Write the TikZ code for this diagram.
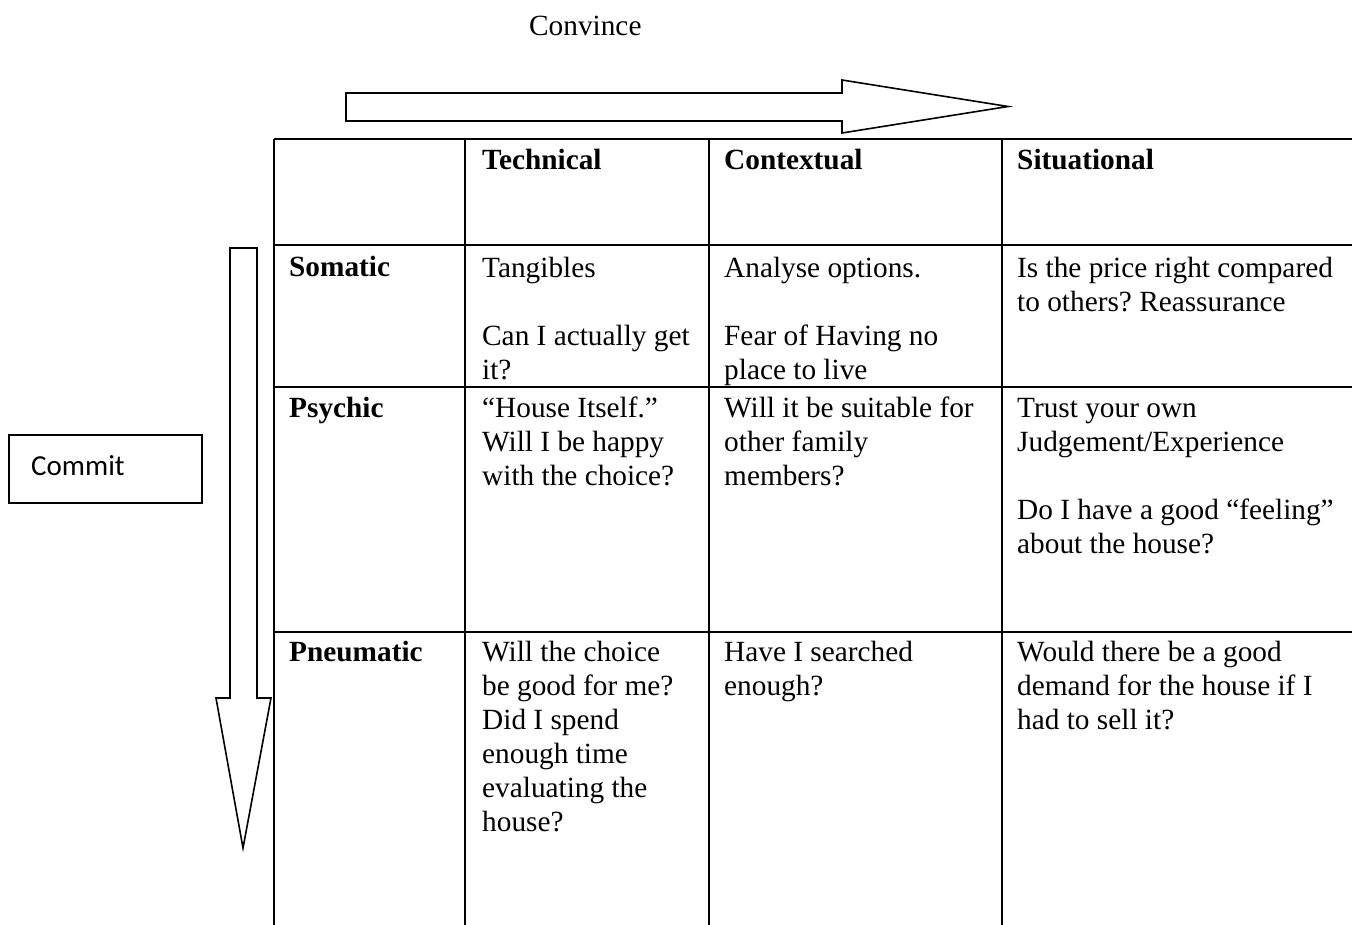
\documentclass[tikz,border=0pt]{standalone}
\usepackage{fontspec}
\setmainfont{Liberation Serif}
\newfontfamily\calibri{Carlito}
\frenchspacing
\begin{document}
\begin{tikzpicture}[x=1pt,y=-1pt,
  tline/.style={line width=2pt},
  arrowline/.style={line width=1.6pt, line join=miter},
  cell/.style={anchor=north west, inner sep=0pt, align=flush left, text width=420pt,
    font=\fontsize{29.3}{34}\selectfont},
  plain/.style={anchor=base west, inner sep=0pt, font=\fontsize{29.3}{34}\selectfont},
  boxstyle/.style={draw, line width=2pt, minimum width=193pt, minimum height=68pt, inner sep=0pt}
]
\useasboundingbox (0,0) rectangle (1352,925);

% Title
\node[plain] (convince) at (529,36) {Convince};

% Horizontal arrow
\coordinate (hA) at (346,93);
\coordinate (hB) at (842,93);
\coordinate (hC) at (842,80);
\coordinate (hTip) at (1008,106.5);
\coordinate (hD) at (842,133);
\coordinate (hE) at (842,121);
\coordinate (hF) at (346,121);
\draw[arrowline] (hA) -- (hB) -- (hC) -- (hTip) -- (hD) -- (hE) -- (hF) -- cycle;

% Vertical arrow
\coordinate (vA) at (230,248);
\coordinate (vB) at (257,248);
\coordinate (vC) at (257,698);
\coordinate (vD) at (271,698);
\coordinate (vTip) at (243,848);
\coordinate (vE) at (216,698);
\coordinate (vF) at (230,698);
\draw[arrowline] (vA) -- (vB) -- (vC) -- (vD) -- (vTip) -- (vE) -- (vF) -- cycle;

% Commit box
\node[boxstyle] (commit) at (105.5,469) {};
\node[anchor=base west, inner sep=0pt, font=\calibri\fontsize{29}{34}\selectfont] (committxt) at (31,475) {Commit};

% Table grid
\draw[tline] (274,139) -- (1352,139);
\draw[tline] (274,245) -- (1352,245);
\draw[tline] (274,387) -- (1352,387);
\draw[tline] (274,632) -- (1352,632);
\draw[tline] (274,139) -- (274,925);
\draw[tline] (465,139) -- (465,925);
\draw[tline] (709,139) -- (709,925);
\draw[tline] (1002,139) -- (1002,925);

% Header row
\node[plain] (hTech) at (482,170) {\bfseries Technical};
\node[plain] (hCont) at (724,170) {\bfseries Contextual};
\node[plain] (hSit) at (1017,170) {\bfseries Situational};

% Row labels
\node[plain] (rSom) at (289,277) {\bfseries Somatic};
\node[plain] (rPsy) at (289,417) {\bfseries Psychic};
\node[plain] (rPne) at (289,661) {\bfseries Pneumatic};

% Somatic row
\node[cell] (c11) at (482,253.3) {\strut Tangibles\\ \mbox{}\\ Can I actually get\\ it?};
\node[cell] (c12) at (724,253.3) {\strut Analyse options.\\ \mbox{}\\ Fear of Having no\\ place to live};
\node[cell] (c13) at (1017,253.3) {\strut Is the price right compared\\ to others? Reassurance};

% Psychic row
\node[cell] (c21) at (482,393.3) {\strut “House Itself.”\\ Will I be happy\\ with the choice?};
\node[cell] (c22) at (724,393.3) {\strut Will it be suitable for\\ other family\\ members?};
\node[cell] (c23) at (1017,393.3) {\strut Trust your own\\ Judgement/Experience\\ \mbox{}\\ Do I have a good “feeling”\\ about the house?};

% Pneumatic row
\node[cell] (c31) at (482,637.3) {\strut Will the choice\\ be good for me?\\ Did I spend\\ enough time\\ evaluating the\\ house?};
\node[cell] (c32) at (724,637.3) {\strut Have I searched\\ enough?};
\node[cell] (c33) at (1017,637.3) {\strut Would there be a good\\ demand for the house if I\\ had to sell it?};
\end{tikzpicture}
\end{document}
